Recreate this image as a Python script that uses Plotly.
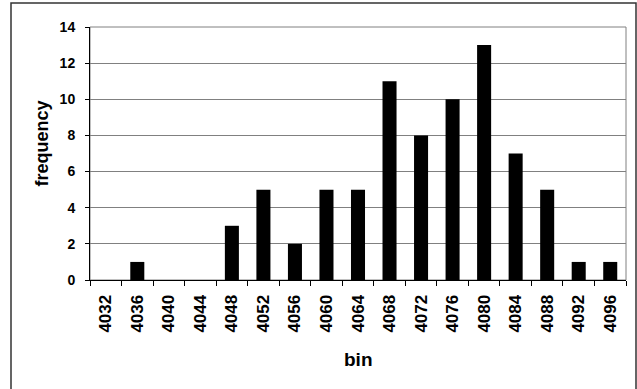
import plotly.graph_objects as go

bins = ["4032", "4036", "4040", "4044", "4048", "4052", "4056", "4060", "4064",
        "4068", "4072", "4076", "4080", "4084", "4088", "4092", "4096"]
frequency = [0, 1, 0, 0, 3, 5, 2, 5, 5, 11, 8, 10, 13, 7, 5, 1, 1]
y_ticks = [0, 2, 4, 6, 8, 10, 12, 14]

W, H = 637, 389
ml, mr, mt, mb = 90, 11, 27, 109
pw, ph = W - ml - mr, H - mt - mb

def px_x(px):
    return (px - ml) / pw

def px_y(py):
    return (H - mb - py) / ph

font = "Arial, Liberation Sans, sans-serif"

fig = go.Figure(go.Bar(
    x=bins, y=frequency,
    marker=dict(color="black", line=dict(width=0)),
))

fig.update_layout(
    width=W, height=H,
    margin=dict(l=ml, r=mr, t=mt, b=mb),
    paper_bgcolor="white", plot_bgcolor="white",
    bargap=0.555,
    showlegend=False,
    font=dict(family=font, color="black"),
    shapes=[
        dict(type="rect", xref="paper", yref="paper",
             x0=0, x1=1, y0=0, y1=1,
             line=dict(color="#808080", width=1), layer="below"),
        dict(type="rect", xref="paper", yref="paper",
             x0=px_x(11), x1=px_x(636), y0=px_y(392), y1=px_y(3),
             line=dict(color="#333333", width=1.5), layer="below"),
    ],
    annotations=[
        dict(text="<b>frequency</b>", xref="paper", yref="paper",
             x=px_x(41), y=px_y(143.5), xanchor="center", yanchor="middle",
             textangle=-90, showarrow=False,
             font=dict(family=font, size=18, color="black")),
        dict(text="<b>bin</b>", xref="paper", yref="paper",
             x=px_x(358), y=px_y(359), xanchor="center", yanchor="middle",
             showarrow=False,
             font=dict(family=font, size=19, color="black")),
    ],
)

fig.update_xaxes(
    type="category",
    automargin=False,
    tickangle=-90,
    tickfont=dict(family=font, size=17, color="black", weight="bold"),
    showline=True, linecolor="black", linewidth=1,
    ticks="outside", ticklen=5, tickcolor="black", tickson="boundaries",
    ticklabelstandoff=7,
    showgrid=False,
)

fig.update_yaxes(
    range=[0, 14],
    automargin=False,
    tickvals=y_ticks,
    tickfont=dict(family=font, size=14, color="black", weight="bold"),
    showline=True, linecolor="black", linewidth=1,
    ticks="outside", ticklen=4, tickcolor="black",
    ticklabelstandoff=7,
    showgrid=True, gridcolor="#808080", gridwidth=1,
    zeroline=False,
)

fig.write_html("out.html", config={"displayModeBar": False},
               post_script="document.body.style.margin='0';")
